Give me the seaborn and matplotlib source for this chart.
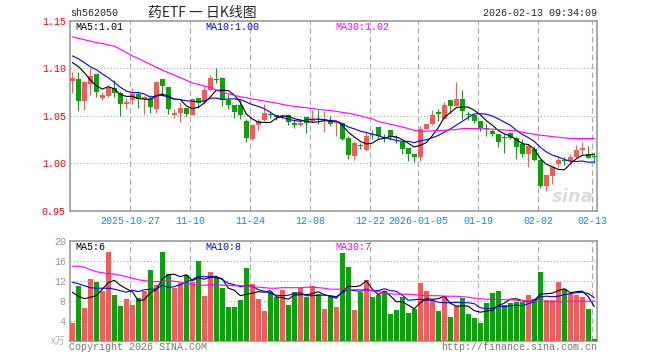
import matplotlib
matplotlib.use("Agg")
import matplotlib.pyplot as plt
import pandas as pd
import seaborn as sns

# ---- values (sh562050, daily) ----
opens = [1.0867, 1.0884, 1.0656, 1.0830, 1.0937, 1.0684, 1.0709, 1.0789, 1.0737, 1.0628,
         1.0667, 1.0733, 1.0674, 1.0690, 1.0568, 1.0884, 1.0803, 1.0509, 1.0533, 1.0579,
         1.0509, 1.0684, 1.0649, 1.0772, 1.0884, 1.0902, 1.0663, 1.0611, 1.0614, 1.0440,
         1.0253, 1.0407, 1.0456, 1.0512, 1.0505, 1.0488, 1.0505, 1.0428, 1.0407, 1.0484,
         1.0446, 1.0467, 1.0444, 1.0456, 1.0418, 1.0421, 1.0263, 1.0077, 1.0186, 1.0137,
         1.0302, 1.0379, 1.0267, 1.0347, 1.0274, 1.0225, 1.0158, 1.0095, 1.0060, 1.0365,
         1.0411, 1.0526, 1.0470, 1.0663, 1.0604, 1.0674, 1.0512, 1.0509, 1.0446, 1.0368,
         1.0340, 1.0305, 1.0274, 1.0323, 1.0270, 1.0207, 1.0095, 1.0154, 1.0035, 0.9761,
         0.9867, 0.9989, 1.0028, 1.0025, 1.0060, 1.0144, 1.0095, 1.0067]
highs = [1.0955, 1.0955, 1.0860, 1.1005, 1.0940, 1.0745, 1.0810, 1.0874, 1.0760, 1.0690,
         1.0790, 1.0760, 1.0710, 1.0716, 1.0856, 1.0886, 1.0805, 1.0568, 1.0639, 1.0586,
         1.0691, 1.0690, 1.0814, 1.0926, 1.1005, 1.0905, 1.0726, 1.0612, 1.0663, 1.0463,
         1.0410, 1.0463, 1.0628, 1.0551, 1.0512, 1.0516, 1.0516, 1.0450, 1.0463, 1.0486,
         1.0560, 1.0560, 1.0551, 1.0500, 1.0446, 1.0423, 1.0288, 1.0235, 1.0211, 1.0340,
         1.0347, 1.0381, 1.0305, 1.0349, 1.0295, 1.0235, 1.0160, 1.0097, 1.0393, 1.0411,
         1.0558, 1.0575, 1.0639, 1.0665, 1.0856, 1.0772, 1.0551, 1.0523, 1.0448, 1.0410,
         1.0358, 1.0307, 1.0305, 1.0325, 1.0272, 1.0253, 1.0200, 1.0182, 1.0037, 0.9874,
         0.9965, 1.0060, 1.0070, 1.0095, 1.0190, 1.0218, 1.0182, 1.0105]
lows = [1.0735, 1.0553, 1.0558, 1.0720, 1.0702, 1.0660, 1.0700, 1.0698, 1.0500, 1.0568,
        1.0620, 1.0586, 1.0520, 1.0533, 1.0525, 1.0708, 1.0516, 1.0474, 1.0435, 1.0498,
        1.0505, 1.0580, 1.0628, 1.0765, 1.0842, 1.0604, 1.0568, 1.0481, 1.0463, 1.0220,
        1.0242, 1.0350, 1.0446, 1.0474, 1.0450, 1.0470, 1.0400, 1.0370, 1.0393, 1.0320,
        1.0435, 1.0410, 1.0330, 1.0390, 1.0288, 1.0242, 1.0049, 1.0035, 1.0154, 1.0130,
        1.0253, 1.0270, 1.0225, 1.0246, 1.0210, 1.0095, 1.0025, 1.0014, 1.0025, 1.0358,
        1.0404, 1.0446, 1.0463, 1.0533, 1.0602, 1.0463, 1.0453, 1.0428, 1.0340, 1.0288,
        1.0288, 1.0172, 1.0112, 1.0250, 1.0042, 1.0067, 0.9961, 1.0025, 0.9744, 0.9709,
        0.9779, 0.9965, 0.9982, 0.9990, 1.0053, 1.0095, 1.0053, 1.0007]
closes = [1.0895, 1.0656, 1.0856, 1.0915, 1.0751, 1.0720, 1.0789, 1.0737, 1.0621, 1.0649,
          1.0726, 1.0674, 1.0702, 1.0595, 1.0855, 1.0814, 1.0568, 1.0533, 1.0586, 1.0516,
          1.0674, 1.0630, 1.0768, 1.0895, 1.0876, 1.0667, 1.0614, 1.0540, 1.0509, 1.0263,
          1.0405, 1.0442, 1.0526, 1.0505, 1.0490, 1.0512, 1.0435, 1.0403, 1.0428, 1.0428,
          1.0463, 1.0456, 1.0463, 1.0410, 1.0421, 1.0253, 1.0084, 1.0211, 1.0179, 1.0288,
          1.0295, 1.0288, 1.0260, 1.0277, 1.0267, 1.0147, 1.0095, 1.0067, 1.0365, 1.0411,
          1.0505, 1.0523, 1.0614, 1.0604, 1.0674, 1.0551, 1.0505, 1.0446, 1.0375, 1.0361,
          1.0312, 1.0228, 1.0270, 1.0263, 1.0172, 1.0095, 1.0182, 1.0035, 0.9761, 0.9874,
          0.9965, 1.0035, 1.0021, 1.0070, 1.0140, 1.0147, 1.0053, 1.0064]

ma5 = [1.1060, 1.1018, 1.0954, 1.0877, 1.0815, 1.0780, 1.0806, 1.0782, 1.0724, 1.0703,
       1.0704, 1.0681, 1.0674, 1.0669, 1.0710, 1.0728, 1.0707, 1.0673, 1.0671, 1.0603,
       1.0575, 1.0588, 1.0635, 1.0697, 1.0769, 1.0767, 1.0764, 1.0718, 1.0641, 1.0519,
       1.0466, 1.0432, 1.0429, 1.0428, 1.0474, 1.0495, 1.0494, 1.0469, 1.0454, 1.0441,
       1.0431, 1.0436, 1.0448, 1.0444, 1.0443, 1.0401, 1.0326, 1.0276, 1.0230, 1.0203,
       1.0211, 1.0252, 1.0262, 1.0282, 1.0277, 1.0248, 1.0209, 1.0171, 1.0188, 1.0217,
       1.0289, 1.0374, 1.0484, 1.0531, 1.0584, 1.0593, 1.0590, 1.0556, 1.0510, 1.0448,
       1.0400, 1.0344, 1.0309, 1.0287, 1.0249, 1.0206, 1.0196, 1.0149, 1.0049, 0.9989,
       0.9963, 0.9934, 0.9931, 0.9993, 1.0046, 1.0083, 1.0086, 1.0095]
ma10 = [1.1130, 1.1100, 1.1060, 1.1015, 1.0985, 1.0940, 1.0900, 1.0850, 1.0800, 1.0759,
        1.0742, 1.0744, 1.0728, 1.0696, 1.0707, 1.0716, 1.0694, 1.0674, 1.0670, 1.0657,
        1.0652, 1.0647, 1.0654, 1.0684, 1.0686, 1.0671, 1.0676, 1.0677, 1.0669, 1.0644,
        1.0617, 1.0598, 1.0574, 1.0535, 1.0496, 1.0481, 1.0463, 1.0449, 1.0441, 1.0457,
        1.0463, 1.0465, 1.0458, 1.0449, 1.0442, 1.0416, 1.0381, 1.0362, 1.0337, 1.0323,
        1.0306, 1.0289, 1.0269, 1.0256, 1.0240, 1.0230, 1.0231, 1.0216, 1.0235, 1.0247,
        1.0268, 1.0292, 1.0327, 1.0360, 1.0401, 1.0441, 1.0482, 1.0520, 1.0521, 1.0516,
        1.0497, 1.0467, 1.0433, 1.0399, 1.0348, 1.0303, 1.0270, 1.0229, 1.0168, 1.0119,
        1.0085, 1.0065, 1.0040, 1.0021, 1.0018, 1.0023, 1.0010, 1.0013]
ma30 = [1.1330, 1.1315, 1.1300, 1.1285, 1.1270, 1.1260, 1.1245, 1.1232, 1.1200, 1.1165,
        1.1130, 1.1103, 1.1070, 1.1040, 1.1010, 1.0980, 1.0953, 1.0927, 1.0900, 1.0873,
        1.0846, 1.0830, 1.0813, 1.0796, 1.0770, 1.0745, 1.0730, 1.0715, 1.0700, 1.0690,
        1.0675, 1.0665, 1.0654, 1.0643, 1.0632, 1.0620, 1.0607, 1.0598, 1.0590, 1.0584,
        1.0575, 1.0566, 1.0560, 1.0555, 1.0545, 1.0535, 1.0526, 1.0514, 1.0498, 1.0480,
        1.0466, 1.0440, 1.0425, 1.0410, 1.0396, 1.0380, 1.0365, 1.0345, 1.0337, 1.0337,
        1.0340, 1.0344, 1.0347, 1.0350, 1.0354, 1.0365, 1.0365, 1.0365, 1.0363, 1.0360,
        1.0358, 1.0354, 1.0350, 1.0344, 1.0340, 1.0326, 1.0315, 1.0305, 1.0295, 1.0288,
        1.0280, 1.0274, 1.0267, 1.0260, 1.0260, 1.0260, 1.0260, 1.0260]

# volume, in 万 lots
vol = [3.5, 11.0, 6.5, 12.3, 11.7, 9.9, 17.7, 9.1, 6.9, 8.3,
       7.1, 8.5, 10.0, 14.1, 11.1, 17.7, 13.3, 10.5, 11.6, 13.1,
       11.7, 16.0, 8.9, 13.7, 12.7, 10.5, 6.7, 6.7, 8.2, 14.5,
       11.3, 8.3, 6.0, 9.7, 8.7, 10.1, 7.1, 9.7, 10.5, 8.7,
       10.9, 9.3, 6.4, 9.0, 6.7, 17.5, 14.7, 6.2, 9.7, 12.1,
       8.7, 9.2, 9.9, 5.3, 6.1, 8.7, 5.5, 6.3, 11.5, 9.9,
       8.1, 6.0, 8.9, 4.7, 6.9, 8.5, 5.3, 4.5, 3.5, 7.5,
       9.5, 10.0, 7.1, 7.5, 7.7, 7.7, 9.1, 8.3, 13.7, 8.2,
       8.2, 11.7, 10.3, 9.4, 9.2, 8.7, 6.3, 0.3]
vol_ma5 = [9.7, 8.9, 8.4, 8.7, 9.0, 10.3, 11.6, 12.1, 11.1, 10.4,
           9.8, 8.0, 8.2, 9.6, 10.2, 12.3, 13.2, 13.3, 12.8, 13.2,
           12.0, 12.6, 12.3, 12.7, 12.6, 12.4, 10.5, 10.1, 9.0, 9.3,
           9.5, 9.8, 9.7, 10.0, 8.8, 8.6, 8.3, 9.1, 9.2, 9.2,
           9.4, 9.8, 9.2, 8.9, 8.5, 9.8, 10.9, 10.8, 11.0, 12.0,
           10.3, 9.2, 9.9, 9.0, 7.8, 7.8, 7.1, 6.4, 7.6, 8.4,
           8.3, 8.4, 8.9, 7.5, 6.9, 7.0, 6.9, 6.0, 5.7, 5.9,
           6.1, 7.0, 7.5, 8.3, 8.4, 8.0, 7.8, 8.1, 9.3, 9.4,
           9.5, 10.0, 10.4, 9.6, 9.8, 9.9, 8.8, 6.8]
vol_ma10 = [11.7, 11.4, 11.0, 10.6, 10.5, 10.5, 10.5, 10.3, 10.0, 9.7,
            10.1, 9.8, 10.2, 10.3, 10.3, 11.1, 10.6, 10.8, 11.2, 11.7,
            12.2, 12.9, 12.8, 12.8, 12.9, 12.2, 11.5, 11.2, 10.8, 11.0,
            10.9, 10.2, 9.9, 9.5, 9.1, 9.0, 9.1, 9.4, 9.6, 9.0,
            9.0, 9.1, 9.1, 9.0, 8.8, 9.6, 10.3, 10.0, 9.9, 10.3,
            10.0, 10.0, 10.4, 10.0, 9.9, 9.1, 8.1, 8.2, 8.3, 8.1,
            8.1, 7.7, 7.6, 7.6, 7.7, 7.6, 7.6, 7.4, 6.6, 6.4,
            6.5, 6.9, 6.8, 7.0, 7.1, 7.0, 7.4, 7.8, 8.8, 8.9,
            8.8, 8.9, 9.2, 9.4, 9.6, 9.7, 9.4, 8.6]
vol_ma30 = [14.9, 14.9, 14.7, 14.2, 13.8, 13.6, 13.4, 13.3, 13.1, 12.8,
            12.5, 12.2, 12.0, 11.9, 11.8, 11.9, 12.0, 11.9, 11.7, 11.5,
            11.2, 11.1, 11.1, 11.2, 11.2, 11.1, 11.1, 11.0, 11.0, 10.9,
            10.8, 10.7, 10.6, 10.5, 10.5, 10.6, 10.6, 10.6, 10.6, 10.7,
            10.7, 10.6, 10.5, 10.3, 10.3, 10.3, 10.3, 10.2, 10.2, 10.1,
            10.0, 9.8, 9.6, 9.4, 9.3, 9.3, 9.3, 9.2, 9.1, 9.0,
            9.0, 9.0, 8.9, 8.9, 8.9, 8.8, 8.7, 8.5, 8.4, 8.3,
            8.3, 8.3, 8.2, 8.2, 8.1, 8.0, 7.9, 7.9, 7.8, 7.8,
            7.8, 7.8, 7.8, 7.9, 7.9, 7.9, 7.9, 7.9]

holidays = ["2026-01-01", "2026-01-02"]
tick_dates = ["2025-10-27", "2025-11-10", "2025-11-24", "2025-12-08", "2025-12-22",
              "2026-01-05", "2026-01-19", "2026-02-02", "2026-02-13"]
tick_labels = ["2025-10-27", "11-10", "11-24", "12-08", "12-22",
               "2026-01-05", "01-19", "02-02", "02-13"]
price_ticks = [0.95, 1.00, 1.05, 1.10, 1.15]
vol_ticks = [4, 8, 12, 16, 20]
price_legend = ["MA5:1.01", "MA10:1.00", "MA30:1.02"]
vol_legend = ["MA5:6", "MA10:8", "MA30:7"]

RED, GREEN = "#ff5656", "#00a800"
MA_COLORS = ["#000000", "#0000ff", "#ff00ff"]
FRAME = "#999999"
MONO = "Liberation Mono"

sns.set_style("white")
plt.rcParams["font.family"] = [MONO, "DejaVu Sans"]

dates = pd.bdate_range("2025-10-13", "2026-02-13")
dates = dates[~dates.isin(pd.to_datetime(holidays))]
df = pd.DataFrame({"i": range(len(dates)), "open": opens, "high": highs, "low": lows,
                   "close": closes, "ma5": ma5, "ma10": ma10, "ma30": ma30,
                   "vol": vol, "vma5": vol_ma5, "vma10": vol_ma10, "vma30": vol_ma30})
df["dir"] = (df.close >= df.open).map({True: "up", False: "down"})
colors = df.dir.map({"up": RED, "down": GREEN})

W, H = 660, 360
fig = plt.figure(figsize=(W / 100, H / 100), dpi=100)
ax = fig.add_axes([70 / W, 1 - 210.7 / H, 527 / W, 190 / H])
axv = fig.add_axes([70 / W, 1 - 340.7 / H, 527 / W, 100 / H])

grid_x = dates.get_indexer(pd.to_datetime(tick_dates)) - 0.35

# candles
ax.vlines(df.i, df.low, df.high, colors=colors, lw=0.8, zorder=3)
body = (df.close - df.open).abs().clip(lower=0.0011)
ax.bar(df.i, body, bottom=df[["open", "close"]].min(axis=1), width=0.83,
       color=colors, linewidth=0, zorder=4)
for col, c in zip(["ma5", "ma10", "ma30"], MA_COLORS):
    sns.lineplot(data=df, x="i", y=col, ax=ax, color=c, lw=0.8, zorder=5)

# volume
sns.barplot(data=df, x="i", y="vol", hue="dir", palette={"up": RED, "down": GREEN},
            native_scale=True, width=0.83, dodge=False, legend=False, saturation=1,
            linewidth=0, ax=axv, zorder=3)
for col, c in zip(["vma5", "vma10", "vma30"], MA_COLORS):
    sns.lineplot(data=df, x="i", y=col, ax=axv, color=c, lw=0.8, zorder=5)

xlim = (-0.38, len(df) - 0.55)
for a, lim, ticks in [(ax, (0.95, 1.15), price_ticks), (axv, (0, 20), vol_ticks)]:
    a.set_xlim(*xlim)
    a.set_ylim(*lim)
    a.set_xlabel("")
    a.set_ylabel("")
    a.set_yticks(ticks)
    a.set_xticks(grid_x)
    a.tick_params(length=0, pad=3)
    for x in grid_x:
        a.axvline(x, color="#aaaaaa", lw=0.8, ls=(0, (5, 3)), zorder=1)
    for y in ticks[:-1]:
        a.axhline(y, color="#aaaaaa", lw=0.8, ls=(0, (1, 2)), zorder=1)
    for s in a.spines.values():
        s.set_visible(True)
        s.set_color(FRAME)
        s.set_linewidth(1.2)

ax.set_yticklabels([f"{t:.2f}" for t in price_ticks], color="#ff0000", fontsize=7.2)
ax.set_xticklabels(tick_labels, color="#1a84d8", fontsize=7.2)
ax.tick_params(axis="x", pad=4)
axv.set_yticklabels([str(t) for t in vol_ticks], color="#999999", fontsize=7.2)
axv.set_xticklabels([])

def px(x, y):
    return x / W, 1 - y / H

fig.text(*px(70, 13), "sh562050", fontsize=7.2, va="center", ha="left")
fig.text(*px(202, 13), "药ETF 一 日K线图", fontsize=10, va="center", ha="center",
         family=["Noto Sans CJK SC", "DejaVu Sans"])
fig.text(*px(597, 13), "2026-02-13 09:34:09", fontsize=7.2, va="center", ha="right")
for x, t, c in zip([75, 205, 335], price_legend, MA_COLORS):
    fig.text(*px(x, 27), t, fontsize=7.2, color=c, va="center")
for x, t, c in zip([75, 205, 335], vol_legend, MA_COLORS):
    fig.text(*px(x, 247), t, fontsize=7.2, color=c, va="center")
fig.text(*px(65, 341), "x万", fontsize=7, color="#b0b0b0", va="center", ha="right",
         family=["Noto Sans CJK SC", "DejaVu Sans"])
fig.text(*px(69, 347), "Copyright 2026 SINA.COM", fontsize=7.2, color="#777777", va="center")
fig.text(*px(597, 347), "http://finance.sina.com.cn", fontsize=7.2, color="#777777",
         va="center", ha="right")
fig.text(*px(594, 197), "sina", fontsize=13, color="#dcdcdc", va="center", ha="right",
         style="italic", weight="bold", family="DejaVu Sans", zorder=0)

fig.savefig("out.png", dpi=100)
